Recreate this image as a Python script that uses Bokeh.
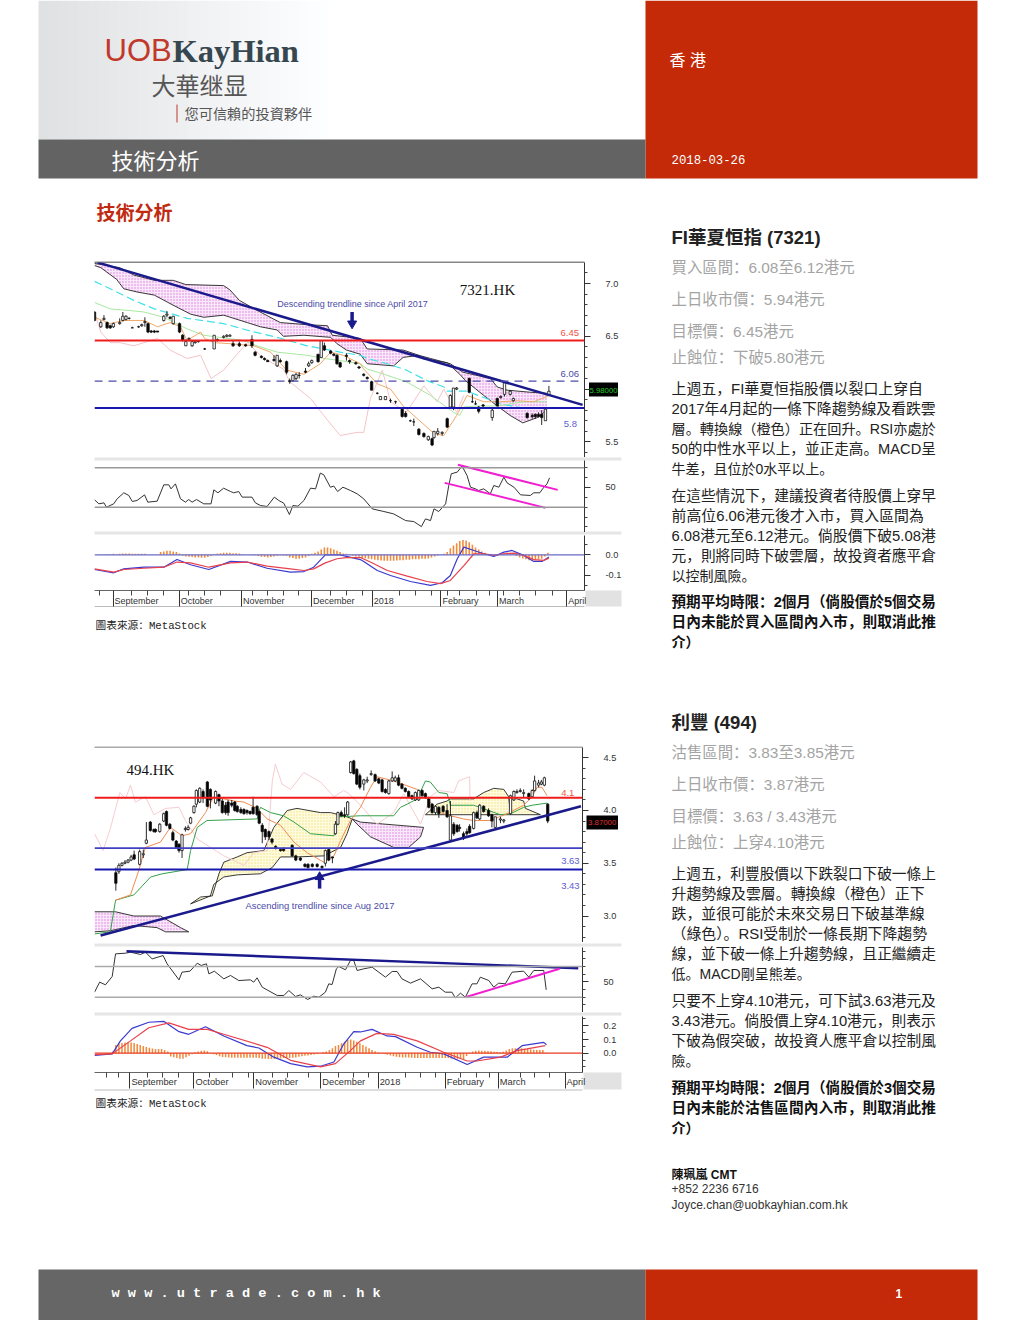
from bokeh.plotting import figure
from bokeh.models import Range1d, FixedTicker, Column, Span, ColumnDataSource
from bokeh.core.properties import value
from bokeh.embed import file_html
from bokeh.resources import INLINE

# ---------------------------------------------------- chart 7321.HK -----
c1_bar = [0,2,3,4,5,6,8,9,10,11,12,14,15,16,17,18,19,20,22,23,24,25,27,28,29,30,31,32,33,35,38,39,41,42,43,44,46,48,50,51,53,54,55,57,58,59,61,62,63,64,65,67,68,69,71,72,73,75,76,77,78,80,81,83,84,85.5,86.6,88,89.8,90.8,92.4,94,95.6,97.7,98.8,100.3,101.4,103,104.6,106,107.2,107.8,109,110.4,112,113,114,115,119,120,121,122,123.4,126.3,127.9,129,130.2,132,133,137.4,139,140,141,142,143.2,144.3]
c1_open = [6.73,6.59,6.66,6.63,6.60,6.59,6.62,6.65,6.66,6.67,6.58,6.59,6.60,6.63,6.62,6.55,6.55,6.55,6.65,6.70,6.68,6.62,6.62,6.51,6.41,6.47,6.41,6.44,6.45,6.38,6.38,6.46,6.49,6.50,6.50,6.43,6.43,6.42,6.47,6.35,6.31,6.29,6.27,6.28,6.22,6.27,6.26,6.08,6.08,6.10,6.13,6.17,6.22,6.25,6.33,6.30,6.41,6.36,6.33,6.32,6.25,6.32,6.27,6.25,6.21,6.14,6.11,6.07,5.96,5.90,5.90,5.89,5.88,5.81,5.77,5.70,5.69,5.62,5.58,5.52,5.53,5.54,5.58,5.58,5.72,5.83,5.83,6.00,6.10,5.88,5.86,5.83,5.85,5.73,5.91,5.92,5.95,5.95,5.89,5.77,5.75,5.76,5.76,5.76,5.70,5.94]
c1_close = [6.65,6.63,6.67,6.58,6.58,6.62,6.63,6.69,6.69,6.67,6.58,6.59,6.61,6.64,6.54,6.54,6.54,6.54,6.69,6.71,6.67,6.69,6.54,6.46,6.45,6.48,6.45,6.45,6.45,6.38,6.51,6.47,6.50,6.51,6.51,6.41,6.41,6.41,6.41,6.32,6.30,6.28,6.26,6.27,6.32,6.26,6.16,6.07,6.13,6.14,6.13,6.16,6.24,6.27,6.26,6.46,6.37,6.34,6.32,6.24,6.21,6.31,6.26,6.24,6.20,6.13,6.10,5.99,5.96,5.93,5.93,5.89,5.88,5.74,5.74,5.70,5.69,5.57,5.55,5.55,5.47,5.60,5.60,5.59,5.64,5.94,6.01,6.01,5.97,5.88,5.86,5.79,5.84,5.80,5.84,5.93,6.06,5.98,5.91,5.73,5.74,5.74,5.74,5.73,5.81,5.98]
c1_high = [6.74,6.65,6.70,6.64,6.61,6.63,6.67,6.73,6.70,6.68,6.59,6.60,6.62,6.68,6.63,6.56,6.56,6.55,6.70,6.74,6.69,6.69,6.63,6.52,6.47,6.49,6.45,6.45,6.46,6.39,6.51,6.48,6.51,6.52,6.52,6.46,6.45,6.43,6.51,6.36,6.32,6.30,6.28,6.32,6.32,6.29,6.27,6.10,6.14,6.15,6.16,6.20,6.26,6.28,6.33,6.46,6.44,6.37,6.34,6.33,6.26,6.34,6.28,6.26,6.22,6.15,6.12,6.08,5.97,5.93,5.93,5.91,5.89,5.83,5.79,5.71,5.72,5.63,5.59,5.56,5.54,5.60,5.63,5.60,5.73,5.95,6.01,6.02,6.11,5.95,5.89,5.84,5.86,5.82,5.92,5.94,6.06,5.99,5.92,5.78,5.77,5.77,5.78,5.80,5.81,6.03]
c1_low = [6.64,6.58,6.65,6.57,6.57,6.58,6.61,6.64,6.65,6.66,6.58,6.58,6.59,6.59,6.53,6.53,6.53,6.54,6.64,6.68,6.66,6.61,6.53,6.45,6.41,6.45,6.40,6.43,6.44,6.37,6.38,6.45,6.48,6.49,6.50,6.40,6.40,6.40,6.39,6.31,6.29,6.27,6.26,6.26,6.21,6.25,6.14,6.05,6.07,6.08,6.10,6.15,6.21,6.24,6.25,6.30,6.36,6.33,6.31,6.23,6.20,6.27,6.24,6.23,6.19,6.12,6.09,5.99,5.95,5.90,5.90,5.87,5.86,5.73,5.73,5.69,5.65,5.56,5.54,5.51,5.46,5.53,5.56,5.56,5.63,5.83,5.80,5.99,5.96,5.87,5.85,5.77,5.83,5.70,5.84,5.91,5.93,5.94,5.88,5.72,5.72,5.72,5.73,5.66,5.70,5.94]
c1_cloud_top_x = [0,8,12.5,19,25,29,41,43,46,52,59,67.5,74,75.5,84.4,86.6,98,103,106.7,113,117,125.7,127.9,131,138.4,143.7]
c1_cloud_top = [7.19,7.15,7.08,7.03,7.03,6.99,6.98,6.94,6.84,6.74,6.63,6.61,6.60,6.51,6.48,6.38,6.37,6.32,6.29,6.24,6.16,6.10,6.02,5.99,5.97,5.96]
c1_cloud_bot_x = [0,2,7,9.3,13.5,19,24,30.5,34.7,41,48.5,52.7,58,60,66.5,75,77,80,84.4,86.6,95,98,103,104,112,116,117.8,123.6,127.9,132,136,140.6,143.7]
c1_cloud_bot = [7.17,7.15,7.04,6.95,6.92,6.89,6.81,6.71,6.68,6.70,6.63,6.59,6.56,6.50,6.51,6.49,6.43,6.37,6.33,6.24,6.22,6.30,6.32,6.29,6.25,6.14,6.08,5.94,5.84,5.75,5.68,5.73,5.80]
c1_cyan_x = [0,5,12.5,19,29.4,41,49.5,58,67.5,78,84.4,86.6,93,99,105.6,111,112,118.3,123.6,129,136]
c1_cyan = [7.02,6.95,6.84,6.76,6.67,6.62,6.55,6.49,6.41,6.35,6.32,6.29,6.24,6.18,6.08,6.02,5.98,5.98,5.92,5.86,5.82]
c1_green_x = [0,5,12.5,15.7,22,29.4,34.7,47.4,51.6,58,67.5,72.8,78,84.4,86.6,92,99,106.7,114,116,117.3,121.5,127.9,136.3,143.7]
c1_green = [6.82,6.76,6.74,6.73,6.68,6.57,6.51,6.46,6.41,6.35,6.32,6.29,6.27,6.24,6.19,6.14,6.07,5.94,5.78,5.75,5.83,5.84,5.84,5.88,5.88]
c1_orange_x = [0,5,9.3,15.7,20,24,27.3,29.4,33.7,35,38,43,50.6,55.9,61,66.5,71.7,75,79,84.4,85.5,89.8,94,98,102.5,107.8,110.9,115,118.3,123.6,129,134,139.5,144.5]
c1_orange = [6.68,6.62,6.65,6.65,6.59,6.63,6.59,6.46,6.54,6.48,6.44,6.43,6.41,6.35,6.18,6.14,6.24,6.35,6.32,6.24,6.19,6.05,6.00,5.84,5.72,5.58,5.56,5.75,5.94,5.88,5.88,5.89,5.88,5.94]
c1_lag_x = [0,2,5,8,12.5,20,24,29.4,33.7,37,41,45,48.5,53.8,60,62,68.6,72.8,78,83.4,85.5,87.6,91.4,94,99,104.6,108.8,110.9,115,117.3]
c1_lag = [6.73,6.54,6.44,6.44,6.41,6.48,6.37,6.29,6.32,6.10,6.18,6.32,6.44,6.29,6.19,6.07,5.91,5.75,5.56,5.59,5.59,5.91,6.18,5.88,5.78,6.03,5.88,6.00,5.78,5.94]
c1_rsi_x = [0,1.4,3,3.8,6.1,7.2,9.3,10.9,12,13.5,15.9,16.9,19.9,22,23.6,24.3,25.7,27.3,28.9,29.9,31,32.4,34.7,37,37.9,39.2,41,43.2,44.2,45.8,46.9,50,51.1,52.7,54.8,57.1,58.5,60.1,61.9,63,64.6,66.5,68.6,70.2,71.7,72.8,74.9,76,77.2,78.9,81.3,83.4,85.5,88.2,91.9,95,98.8,101.4,103.8,105.1,106.7,107.8,109.3,111.5,112.5,113.3,115.2,116.7,118.3,119.4,121,122,123.6,125.7,126.8,128.4,130,131,133.2,135.3,138.4,139.5,141.4,142.7,143.7,144.5]
c1_rsi = [37.5,33.4,34.4,30,33.4,38.5,44.6,41.9,35.8,36.8,42.5,35.1,36.1,52.7,52.7,48.6,53.7,38.5,35.1,37.8,35.1,37.8,33.4,33.4,47.6,44.6,49.3,45.9,44.6,45.9,40.2,40.2,34.4,31.7,30.7,40.2,36.8,34.1,22.5,31.7,31,36.8,49.3,48.6,64.6,62.9,50.3,51.4,45.9,50.3,46.9,43.6,38.5,28.3,25.6,23.2,16.4,15.4,10.3,18.1,16.4,28.3,25.6,33.4,52,63.9,65.6,71.7,62.2,50.3,48.6,46.9,48.6,43.6,52,50.3,60.5,54.7,50.3,42.5,41.9,44.6,44.6,50.3,53.7,59.8]
c1_macd_x = [0,6.1,9.3,15.7,22,26.2,30.5,36.3,43.2,48.5,54.8,62.2,66.5,69.6,73.3,78,84.4,85.5,89.8,94,100.3,106.7,110.4,113,115.2,117.3,120.5,123.6,126.8,130,132.6,136.3,139.5,142.1,144.3]
c1_macd = [-.071,-.087,-.068,-.060,-.060,-.023,-.048,-.071,-.032,-.035,-.065,-.084,-.081,-.060,0,0,-.023,-.032,-.076,-.100,-.129,-.148,-.135,-.100,-.019,.037,.021,.005,-.008,.013,.021,-.003,-.032,-.032,-.011]
c1_sig_x = [0,6.1,9.3,15.7,22,26.2,30.5,36.3,43.2,48.5,54.8,62.2,66.5,69.6,73.3,77,80,84.4,87.6,93,99.3,105.6,109.9,113,117.3,120.5,123.6,126.8,130,133.2,136.3,139.5,142.7,144.3]
c1_sig = [-.068,-.084,-.071,-.065,-.060,-.035,-.039,-.060,-.039,-.035,-.055,-.068,-.076,-.068,-.039,-.019,-.014,-.013,-.035,-.076,-.103,-.129,-.139,-.124,-.052,.005,.005,-.003,.005,.008,-.003,-.023,-.027,-.016]
c1_hist_milli = [0,0,0,0,3,3,5,3,5,6,6,6,5,5,5,5,5,0,0,0,0,13,16,19,19,16,13,6,-5,-8,-10,-11,-13,-13,-14,-14,-11,-5,3,6,8,10,10,10,8,8,6,3,0,0,-2,-2,-6,-10,-11,-13,-11,-8,-5,-2,-3,-5,-13,-16,-19,-19,-16,-13,-6,5,10,16,26,35,35,32,26,19,13,6,5,2,-5,-8,-10,-16,-17,-19,-21,-24,-26,-27,-29,-29,-29,-29,-27,-26,-26,-24,-24,-22,-21,-21,-19,-19,-18,-13,-8,-3,2,5,13,32,45,56,67,72,69,61,48,35,26,16,10,5,-3,-6,-5,0,6,11,10,3,-6,-13,-18,-22,-26,-29,-26,-22,-19,-8,10]
c1_month_bar = [5.9,26.9,46.7,68.9,88.2,110,128,150]
c1_week_bar = [1.7,11.6,16.9,22,29.8,34.9,40,50.2,55,59.9,64.9,75.1,80,85,97,102,107,112,116,121.3,125.3,130,135,140,145.3]
month_names = ["September","October","November","December","2018","February","March","April"]
c1_levels = dict(red=6.46, dash=6.075, blue=5.82)
c1_trend_x, c1_trend = [0.9,155], [7.20,5.85]
c1_ch_up_x, c1_ch_up = [115.4,147.1], [73,47.6]
c1_ch_lo_x, c1_ch_lo = [111.2,143.2], [54.7,29.3]

# ---------------------------------------------------- chart 494.HK ------
c2_bar = [7,8,9,10,11,12,13,14.8,16,17,18.3,19.5,20,21.4,22.7,23.6,24.7,25.7,26.8,27.7,28.7,29.8,30.7,31.5,32.6,33.4,34.5,35.6,37,38,39.7,40.8,41.9,43,43.8,45,46,46.8,48,49,50,51,52,53.3,54,55,56,57.2,58.2,59.4,61,62,64.8,66,67.5,69,70,71.4,73,74.6,75.7,76.8,78,79,79.8,80.9,82,83,84,85,86,87,88.3,89.4,90.7,92,93.2,94.3,95.4,96.5,97.6,98.6,99.7,100.8,101.9,103,104.1,105.2,106.3,107.4,108.5,109.6,110.7,111.8,112.9,114.3,115.6,116.7,117.8,118.9,119.7,121,122.1,123,124.3,125.4,126.3,127.6,129.2,130.3,131.4,133.1,134.2,136.4,137.5,138.5,139.6,140.7,142.4,143.5,144.3,145.6,146.5,147.5,148.6]
c2_open = [3.41,3.42,3.48,3.50,3.51,3.53,3.58,3.49,3.58,3.69,3.89,3.82,3.82,3.80,3.90,3.99,3.87,3.79,3.71,3.68,3.62,3.82,3.82,3.88,3.98,4.06,4.08,4.18,4.27,4.20,4.07,4.15,4.09,4.05,4.08,4.07,4.08,4.04,4.01,4.01,4.00,3.99,4.03,4.04,3.99,3.86,3.82,3.80,3.73,3.66,3.63,3.64,3.67,3.57,3.55,3.49,3.49,3.49,3.49,3.47,3.50,3.63,3.56,3.78,3.87,3.98,3.96,3.96,4.36,4.47,4.39,4.33,4.25,4.28,4.34,4.34,4.30,4.29,4.20,4.16,4.28,4.28,4.31,4.25,4.21,4.18,4.14,4.10,4.10,4.19,4.16,4.11,4.06,3.98,4.03,4.04,4.00,3.72,3.87,3.86,3.84,3.78,3.80,3.85,3.83,3.98,3.92,4.04,4.00,3.96,3.84,3.91,3.90,3.97,4.10,4.17,4.18,4.16,4.16,4.13,4.19,4.24,4.25,4.24,4.06]
c2_close = [3.31,3.48,3.50,3.51,3.53,3.56,3.54,3.61,3.59,3.72,3.81,3.80,3.80,3.87,3.97,3.86,3.83,3.72,3.65,3.62,3.77,3.83,3.84,3.93,4.04,4.19,4.21,4.12,4.04,4.10,4.18,4.09,3.98,3.98,3.98,4.05,4.00,3.99,3.98,3.97,3.98,3.97,3.97,3.96,3.88,3.80,3.75,3.75,3.70,3.64,3.62,3.62,3.57,3.53,3.53,3.47,3.46,3.47,3.47,3.46,3.62,3.53,3.55,3.87,3.98,3.95,3.95,4.08,4.46,4.35,4.25,4.22,4.29,4.29,4.35,4.28,4.26,4.18,4.17,4.28,4.31,4.31,4.24,4.21,4.18,4.13,4.11,4.17,4.19,4.14,4.12,4.03,3.98,4.04,3.97,3.99,3.94,3.95,3.78,3.80,3.83,3.74,3.78,3.79,3.98,3.93,4.05,3.99,3.95,3.90,3.94,3.92,3.91,4.14,4.18,4.18,4.19,4.17,4.11,4.19,4.28,4.26,4.27,4.31,3.90]
c2_high = [3.46,3.50,3.51,3.53,3.54,3.58,3.62,3.63,3.63,3.89,3.90,3.83,3.83,3.88,3.98,4.00,3.88,3.81,3.72,3.69,3.78,3.85,3.86,3.94,4.05,4.20,4.22,4.20,4.28,4.21,4.19,4.16,4.11,4.08,4.10,4.10,4.09,4.05,4.03,4.02,4.01,4.00,4.13,4.05,4.00,3.88,3.83,3.81,3.74,3.67,3.64,3.65,3.68,3.58,3.56,3.50,3.50,3.50,3.50,3.48,3.63,3.64,3.56,3.90,3.99,4.00,4.03,4.09,4.47,4.48,4.40,4.35,4.30,4.32,4.38,4.35,4.31,4.30,4.21,4.29,4.37,4.33,4.34,4.26,4.22,4.19,4.15,4.18,4.20,4.20,4.17,4.13,4.07,4.05,4.04,4.05,4.06,4.09,3.89,3.87,3.87,3.80,3.83,3.87,3.99,4.00,4.06,4.05,4.02,3.97,3.94,3.94,3.92,4.15,4.19,4.20,4.21,4.20,4.17,4.20,4.33,4.29,4.29,4.32,4.07]
c2_low = [3.24,3.40,3.47,3.49,3.50,3.52,3.53,3.48,3.55,3.68,3.80,3.79,3.79,3.79,3.89,3.85,3.82,3.71,3.64,3.60,3.55,3.80,3.81,3.87,3.97,4.03,4.07,4.07,4.03,4.02,4.06,4.04,3.97,3.96,3.95,4.03,3.99,3.98,3.97,3.96,3.96,3.96,3.96,3.95,3.87,3.69,3.72,3.72,3.68,3.63,3.61,3.61,3.56,3.52,3.52,3.46,3.45,3.46,3.46,3.44,3.47,3.52,3.50,3.77,3.86,3.94,3.93,3.95,4.35,4.34,4.24,4.20,4.19,4.26,4.33,4.27,4.25,4.17,4.16,4.15,4.27,4.27,4.23,4.20,4.17,4.12,4.10,4.09,4.09,4.13,4.11,4.02,3.97,3.96,3.93,3.98,3.93,3.70,3.76,3.79,3.80,3.72,3.75,3.78,3.82,3.92,3.91,3.98,3.94,3.84,3.83,3.88,3.88,3.96,4.09,4.16,4.17,4.12,4.10,4.12,4.18,4.22,4.24,4.23,3.88]
c2_pink_a_top_x, c2_pink_a_top = [0,6.9,12.9,21.6,28.2,30.9], [3.04,3.04,3.00,3.00,2.89,2.85]
c2_pink_a_bot_x, c2_pink_a_bot = [0,5.2,12.9,20.5,23.3,30.9], [2.85,2.86,2.91,2.89,2.85,2.85]
c2_yel_a_top_x = [31.5,34.8,38.6,40.8,42.4,46.8,50,55.5,58.8,63.2,66.4,74.1,77.4,82.8,84.5]
c2_yel_a_top = [3.115,3.18,3.19,3.40,3.51,3.56,3.60,3.62,3.84,4.00,4.02,3.98,3.98,3.94,3.92]
c2_yel_a_bot_x = [31.5,38,39.1,42.4,46.8,54.4,58.3,61,66.4,75.2,80.7,82.8,84.5]
c2_yel_a_bot = [3.115,3.19,3.30,3.37,3.39,3.40,3.46,3.56,3.56,3.57,3.65,3.78,3.92]
c2_pink_b_top_x, c2_pink_b_top = [84.5,87.2,107.9], [3.92,3.89,3.84]
c2_pink_b_bot_x, c2_pink_b_bot = [84.5,86.1,90.5,98.1,103,106.9,107.9], [3.92,3.87,3.75,3.65,3.65,3.75,3.84]
c2_yel_b_top_x = [108.5,112.3,115.6,116.7,124.3,127.6,130.9,134.2,135.8,136.4]
c2_yel_b_top = [3.96,4.06,4.09,4.11,4.11,4.17,4.21,4.20,4.13,3.96]
c2_yel_b_bot_x, c2_yel_b_bot = [108.5,136.4], [3.96,3.96]
c2_yel_c_top_x, c2_yel_c_top = [136.4,140.7,141.3,146.2], [4.13,4.09,4.02,3.96]
c2_yel_c_bot_x, c2_yel_c_bot = [136.4,146.2], [3.96,3.96]
c2_lag_x = [0,2.8,5.2,8.3,10.2,11.8,13.4,16.7,19.5,23.3,27.7,29.8,33.7,42.4,49,52.2,56.6,58.3,59.3,61.5,64.3,68.6,74.1,78.5,81.7,83.4,87.2,92.6,98.1,101.4,106.9,110.1,112.9,117.8,119.4,123,123.1]
c2_lag = [3.78,3.62,3.83,4.17,4.11,4.24,4.08,4.13,3.96,4.02,4.03,3.905,3.73,3.57,3.48,3.60,3.62,4.28,4.44,4.25,4.20,4.36,4.27,4.13,4.19,4.16,4.05,3.87,3.98,4.16,3.87,4.13,4.19,4.17,4.28,4.32,4.09]
c2_orange_x = [6.9,11.8,14.5,16.7,21.6,24.9,28.7,31.5,33.7,36.4,39.1,45.7,49,53.3,56.6,61,65.4,69.7,75.2,78.5,80.7,83.9,87.2,90.5,92.6,98.1,105.8,110.1,113.4,116.7,121,124.3,129.8,135.3,140.7,143.5,145.1,146.7,148.4]
c2_orange = [3.15,3.20,3.43,3.65,3.70,3.84,3.76,3.78,3.87,3.98,4.13,4.09,4.08,4.02,3.92,3.86,3.70,3.60,3.51,3.57,3.715,3.905,4.03,4.22,4.32,4.28,4.20,4.08,3.98,3.95,3.92,3.905,3.905,3.97,4.05,4.13,4.22,4.22,4.14]
c2_green_x = [0,5.2,6.9,12.9,18.4,22.2,30.4,31.5,33.7,36.9,53.3,54.4,57.7,62,65.4,70.8,78.5,80.1,87.2,98.1,100.3,102.5,105.8,108.5,110.1,112.9,115.6,116.7,124.3,133.1,136.4,140.7,143.5,148.4]
c2_green = [2.83,2.85,3.15,3.20,3.37,3.40,3.44,3.62,3.84,3.905,3.92,4.03,3.98,3.95,3.89,3.78,3.76,3.94,3.95,3.95,4.03,4.06,4.11,4.28,4.27,4.17,4.16,4.05,4.05,3.96,3.97,4.03,4.05,4.07]
c2_rsi_x = [0,1.7,3.6,5.8,6.9,10.2,11.8,15.1,16.7,18.9,22.5,23.8,27.7,28.7,31.3,33.7,35,36.7,37.5,39.3,42.4,44.6,47.3,51.1,52.2,53.3,55,59.9,62.1,63.7,65.9,67.5,69.9,71.9,73.6,75.7,76.8,77.9,79.3,80.1,82.3,83.9,85,86.1,88.3,91,93.2,95.4,97.6,99.2,100.8,103.6,106.9,110.7,112.9,115,117.2,118.3,120,121.6,123.8,125.4,126.5,129.3,130.9,132.5,134.7,136.9,140.7,142.4,144,147.3,148.1]
c2_rsi = [36.5,49.6,46.1,57,86.5,87.4,88.7,85.7,88.7,80,84.3,73.5,52.6,62.6,63.9,74.3,71.3,73.5,60.4,63.9,53.9,58.3,51.7,52.6,49.6,55.2,43,32.2,32.2,38.7,30.9,33,27,31.3,30,36.5,47.4,46.5,67,70,65.7,77.8,77.8,64.8,67,69.1,62.6,56.1,63.5,63.5,53.9,48.3,53.9,40.9,43,36.5,36.5,29.1,35.2,30,47.4,47.4,56.1,51.7,43,48.3,47.4,62.6,63.9,56.1,64.8,64.8,39.6]
c2_macd_x = [0,5.8,8.5,12.3,17.8,22.7,27.7,30.9,36.4,42.4,50,53.9,58.8,64.3,69.7,74.1,78.5,81.7,85,87.2,91,95.9,98.7,105.8,110.1,114.5,122.2,127.6,135.3,140.2,147.3,148.2]
c2_macd = [-.017,-.005,.090,.181,.226,.233,.157,.138,.193,.126,.055,.038,-.029,-.076,-.100,-.095,-.064,.067,.157,.155,.174,.126,.121,.043,.007,-.005,-.083,-.029,-.029,.055,.079,.062]
c2_sig_x = [0,5.8,11.8,17.8,24.4,30.9,37,42.4,56.6,64.3,74.1,79,83.9,87.2,92.6,98.1,105.8,114.5,122.2,125.4,133.1,138.5,141.8,147.8]
c2_sig = [-.010,-.005,.090,.186,.221,.174,.174,.138,.043,-.052,-.100,-.076,.019,.090,.145,.138,.090,.007,-.057,-.057,-.029,.019,.031,.055]
c2_hist_milli = [0,0,0,0,0,0,12,60,70,75,78,80,78,74,68,60,52,46,40,34,31,30,30,24,12,-24,-30,-36,-41,-40,-30,-19,-8,7,12,17,19,14,2,-7,-14,-22,-28,-29,-31,-33,-34,-34,-33,-34,-34,-34,-34,-34,-36,-41,-41,-43,-43,-43,-41,-38,-36,-36,-36,-33,-31,-26,-22,-19,-17,-14,-10,-5,0,7,12,24,36,52,60,72,84,96,100,92,84,72,60,48,36,24,14,5,2,-5,-12,-17,-22,-26,-29,-31,-31,-31,-34,-36,-36,-36,-36,-36,-36,-36,-36,-36,-36,-36,-36,-38,-40,-41,-43,-43,-20,-5,12,18,19,18,17,16,14,10,8,7,10,20,30,36,36,36,36,33,30,28,26,24,24,24,-5]
c2_month_bar = [11.6,32.6,52.2,74.2,93,115,132.4,154.3]
c2_week_bar = [3.8,7.8,17.3,22.4,27.7,37.8,45.4,50.6,58.3,63.2,70.3,80.1,85,89.9,101.9,107,111.8,120,125.4,129.6,139.6,144.3,149.3]
c2_levels = dict(red=4.12, blue1=3.643, blue2=3.44)
c2_trend_x, c2_trend = [2,159.5], [2.815,4.04]
c2_rsi_trend_x, c2_rsi_trend = [10.5,158.6], [90,67.8]
c2_rsi_up_x, c2_rsi_up = [121.6,152.5], [30,67]
box1_text, box2_text = "5.98000", "3.87000"

SANS = "Liberation Sans, Noto Sans CJK SC"
CJK = SANS
SERIF = "Liberation Serif"
BLUE_TXT = "#4a4aa8"

def panel(left, top, fw, fh, xr, yr, major, minor, labels, xaxis=False):
    p = figure(width=fw+39, height=fh+(17 if xaxis else 0), x_range=Range1d(*xr), y_range=Range1d(*yr),
               output_backend="svg", toolbar_location=None,
               x_axis_location="below" if xaxis else None, y_axis_location="right",
               min_border_left=0, min_border_top=0, min_border_bottom=17 if xaxis else 0, min_border_right=39,
               background_fill_color=None, border_fill_color=None, outline_line_color=None)
    p.frame_width = fw
    p.frame_height = fh
    p.grid.visible = False
    ax = p.yaxis[0]
    ax.ticker = FixedTicker(ticks=major, minor_ticks=minor)
    ax.major_label_overrides = labels
    ax.major_tick_in = 0; ax.major_tick_out = 6
    ax.minor_tick_in = 0; ax.minor_tick_out = 3
    ax.major_label_standoff = 15
    ax.major_label_text_font = "Liberation Sans"
    ax.major_label_text_font_size = "9.2px"
    ax.major_label_text_color = "#333333"
    ax.axis_line_color = "#333333"
    ax.major_tick_line_color = "#333333"
    ax.minor_tick_line_color = "#444444"
    p.styles = {"position": "absolute", "left": f"{left}px", "top": f"{top}px"}
    return p

def month_axis(p, months, weeks):
    ax = p.xaxis[0]
    ax.ticker = FixedTicker(ticks=months, minor_ticks=weeks)
    ax.major_tick_in = 0; ax.major_tick_out = 16
    ax.minor_tick_in = 0; ax.minor_tick_out = 5
    ax.major_label_text_color = None
    ax.major_label_text_font_size = "1px"
    ax.major_label_standoff = 0
    ax.axis_line_color = "#666666"
    ax.major_tick_line_color = "#333333"
    ax.minor_tick_line_color = "#444444"

def cloud(p, tx, ty, bx, by, kind):
    fill, hatch = ("#f9e8f9", "#d860d8") if kind == "pink" else ("#fffbe0", "#f0dc60")
    p.patch(list(tx)+list(bx)[::-1], list(ty)+list(by)[::-1], fill_color=fill, line_color=None,
            hatch_pattern="dot", hatch_color=hatch, hatch_scale=3, hatch_alpha=0.8)
    p.line(tx, ty, line_color="#222222", line_width=0.9)
    p.line(bx, by, line_color="#222222", line_width=0.9)

def candles(p, bar, o, c, h, l):
    src = ColumnDataSource(dict(x=bar, top=[max(a, b) for a, b in zip(o, c)], bottom=[min(a, b) for a, b in zip(o, c)],
                                h=h, l=l, col=["black" if a > b else "white" for a, b in zip(o, c)]))
    p.segment("x", "h", "x", "l", source=src, line_color="#111111", line_width=0.9)
    p.vbar("x", 0.75, "top", "bottom", source=src, fill_color="col", line_color="#111111", line_width=0.8)

def txt(p, x, y, s, size, color, font=SANS, style="normal", align="left"):
    p.text([x], [y], text=[s], text_font=value(font), text_font_size=f"{size}px", text_color=color,
           text_font_style=style, text_baseline="middle", text_align=align)

def hist(p, vals, col):
    xs = list(range(len(vals)))
    p.vbar(xs, 0.5, [v/1000 for v in vals], [0]*len(vals), fill_color=col, line_color=None)

def arrow(p, x, y0, y1, dy):
    p.segment([x], [y0], [x], [y1], line_color="#1a1a8c", line_width=3.5)
    p.scatter([x], [y1], marker="triangle" if dy > 0 else "inverted_triangle", size=9, fill_color="#1a1a8c", line_color="#1a1a8c")

# ----- 7321.HK panels
xr1 = (0, 155.6)
a1 = panel(94, 262, 490, 195, xr1, (5.352, 7.199), [5.5, 6.0, 6.5, 7.0],
           [5.4,5.6,5.7,5.8,5.9,6.1,6.2,6.3,6.4,6.6,6.7,6.8,6.9,7.1], {5.5:"5.5",6.0:"",6.5:"6.5",7.0:"7.0"})
cloud(a1, c1_cloud_top_x, c1_cloud_top, c1_cloud_bot_x, c1_cloud_bot, "pink")
a1.line(c1_lag_x, c1_lag, line_color="#f4c4c8", line_width=1)
a1.line(c1_cyan_x, c1_cyan, line_color="#40e0e8", line_width=1.2, line_dash="8 4")
a1.line(c1_green_x, c1_green, line_color="#a8e8a0", line_width=1)
a1.line(c1_orange_x, c1_orange, line_color="#f0a868", line_width=1)
candles(a1, c1_bar, c1_open, c1_close, c1_high, c1_low)
a1.add_layout(Span(location=c1_levels["red"], dimension="width", line_color="#f01c1c", line_width=2))
a1.add_layout(Span(location=c1_levels["dash"], dimension="width", line_color="#4c4ca8", line_width=1.2, line_dash="8 6"))
a1.add_layout(Span(location=c1_levels["blue"], dimension="width", line_color="#1818b0", line_width=2))
a1.line(c1_trend_x, c1_trend, line_color="#1a1a8c", line_width=2.5)
txt(a1, 58, 6.81, "Descending trendline since April 2017", 9, BLUE_TXT)
txt(a1, 116, 6.94, "7321.HK", 15, "#111111", SERIF)
txt(a1, 148, 6.53, "6.45", 9.5, "#ee5544")
txt(a1, 148, 6.14, "6.06", 9.5, BLUE_TXT)
txt(a1, 149, 5.67, "5.8", 9.5, "#6060d0")
arrow(a1, 81.8, 6.73, 6.62, -1)

b1 = panel(94, 460, 490, 72, xr1, (4.3, 77.4), [50], [10,20,30,40,60,70], {50:"50"})
b1.add_layout(Span(location=70, dimension="width", line_color="#999999", line_width=1.5))
b1.add_layout(Span(location=30, dimension="width", line_color="#999999", line_width=1.5))
b1.line(c1_rsi_x, c1_rsi, line_color="#333333", line_width=1)
b1.line(c1_ch_up_x, c1_ch_up, line_color="#f020d0", line_width=2)
b1.line(c1_ch_lo_x, c1_ch_lo, line_color="#f020d0", line_width=2)

m1 = panel(94, 535, 490, 55, xr1, (-.1725, .0932), [-0.1, 0.0], [-0.15,-0.05,0.05], {-0.1:"-0.1",0.0:"0.0"}, True)
hist(m1, c1_hist_milli, "#f08a3c")
m1.add_layout(Span(location=0, dimension="width", line_color="#6a6ac8", line_width=1.2))
m1.line(c1_macd_x, c1_macd, line_color="#3a3ad0", line_width=1.2)
m1.line(c1_sig_x, c1_sig, line_color="#e8404c", line_width=1.2)
month_axis(m1, c1_month_bar, c1_week_bar)

# ----- 494.HK panels
xr2 = (0, 160)
a2 = panel(94, 747, 488, 195, xr2, (2.749, 4.597), [3.0, 3.5, 4.0, 4.5],
           [2.8,2.9,3.1,3.2,3.3,3.4,3.6,3.7,3.8,3.9,4.1,4.2,4.3,4.4], {3.0:"3.0",3.5:"3.5",4.0:"4.0",4.5:"4.5"})
cloud(a2, c2_pink_a_top_x, c2_pink_a_top, c2_pink_a_bot_x, c2_pink_a_bot, "pink")
cloud(a2, c2_yel_a_top_x, c2_yel_a_top, c2_yel_a_bot_x, c2_yel_a_bot, "yellow")
cloud(a2, c2_pink_b_top_x, c2_pink_b_top, c2_pink_b_bot_x, c2_pink_b_bot, "pink")
cloud(a2, c2_yel_b_top_x, c2_yel_b_top, c2_yel_b_bot_x, c2_yel_b_bot, "yellow")
cloud(a2, c2_yel_c_top_x, c2_yel_c_top, c2_yel_c_bot_x, c2_yel_c_bot, "yellow")
a2.line(c2_lag_x, c2_lag, line_color="#f6ccd0", line_width=1)
a2.line(c2_green_x, c2_green, line_color="#34a048", line_width=1)
a2.line(c2_orange_x, c2_orange, line_color="#f08c50", line_width=1)
candles(a2, c2_bar, c2_open, c2_close, c2_high, c2_low)
a2.add_layout(Span(location=c2_levels["red"], dimension="width", line_color="#f01c1c", line_width=2))
a2.add_layout(Span(location=c2_levels["blue1"], dimension="width", line_color="#4040c0", line_width=1.6))
a2.add_layout(Span(location=c2_levels["blue2"], dimension="width", line_color="#1818b0", line_width=2))
a2.line(c2_trend_x, c2_trend, line_color="#1a1a8c", line_width=2.5)
txt(a2, 49.5, 3.10, "Ascending trendline since Aug 2017", 9.4, BLUE_TXT)
txt(a2, 10.5, 4.38, "494.HK", 15, "#111111", SERIF)
txt(a2, 153, 4.17, "4.1", 9.5, "#ee5544")
txt(a2, 153, 3.52, "3.63", 9.5, "#6060d0")
txt(a2, 153, 3.28, "3.43", 9.5, "#6060d0")
arrow(a2, 73.8, 3.26, 3.37, 1)

b2 = panel(94, 947, 488, 65, xr2, (10, 94.8), [50], [20,30,40,60,70,80,90], {50:"50"})
b2.add_layout(Span(location=70, dimension="width", line_color="#aaaaaa", line_width=1.5))
b2.add_layout(Span(location=30, dimension="width", line_color="#aaaaaa", line_width=1.5))
b2.line(c2_rsi_x, c2_rsi, line_color="#333333", line_width=1)
b2.line(c2_rsi_trend_x, c2_rsi_trend, line_color="#1a1a8c", line_width=2.4)
b2.line(c2_rsi_up_x, c2_rsi_up, line_color="#f020d0", line_width=2)

m2 = panel(94, 1016, 488, 56, xr2, (-.141, .268), [0.0, 0.1, 0.2], [-0.1,-0.05,0.05,0.15,0.25], {0.0:"0.0",0.1:"0.1",0.2:"0.2"}, True)
hist(m2, c2_hist_milli, "#f08a3c")
m2.add_layout(Span(location=0, dimension="width", line_color="#e83c20", line_width=1.2))
m2.line(c2_macd_x, c2_macd, line_color="#3a3ad0", line_width=1.2)
m2.line(c2_sig_x, c2_sig, line_color="#e8404c", line_width=1.2)
month_axis(m2, c2_month_bar, c2_week_bar)

# ----- the page itself
page = figure(width=1020, height=1320, x_range=Range1d(0, 1020), y_range=Range1d(1320, 0),
              output_backend="svg", toolbar_location=None, x_axis_location=None, y_axis_location=None,
              min_border=0, min_border_left=0, min_border_right=0, min_border_top=0, min_border_bottom=0,
              outline_line_color=None, background_fill_color="white", border_fill_color="white")
page.frame_width = 1020
page.frame_height = 1320
page.grid.visible = False
page.styles = {"position": "absolute", "left": "0px", "top": "0px"}

def rect(x0, y0, x1, y1, col):
    page.quad(left=[x0], right=[x1], top=[y0], bottom=[y1], fill_color=col, line_color=None)

steps = 30
for i in range(steps):
    t = i/(steps-1)
    v = int(224 + (255-224)*min(1, t))
    rect(38+i*10, 0, 38+(i+1)*10+0.5, 139, f"#{v:02x}{v+1:02x}{min(v+3,255):02x}")
rect(645, 0, 977, 178, "#c42a08")
rect(38, 139, 645, 178, "#636363")
rect(38, 1269, 645, 1320, "#666666")
rect(645, 1269, 977, 1320, "#c42a08")
for y0, y1 in [(457, 460), (531, 534), (943, 946), (1012, 1015)]:
    rect(94, y0, 621, y1, "#e6e6e6")
rect(94, 261, 584, 262.5, "#888888")
rect(94, 746, 582, 747.5, "#aaaaaa")
rect(585, 590, 621, 606, "#e2e2e2")
rect(583, 1072, 621, 1089, "#e2e2e2")
rect(94, 605.5, 584, 606.5, "#bbbbbb")
rect(94, 1089, 582, 1090, "#bbbbbb")
rect(176, 104, 177, 122, "#c0392b")
rect(588.5, 382, 617.5, 396, "#000000")
txt(page, 603, 389.5, box1_text, 7.8, "#22cc22", "Liberation Sans", align="center")
rect(586, 815, 617.5, 829, "#000000")
txt(page, 601.7, 822, box2_text, 7.8, "#e03030", "Liberation Sans", align="center")

# month names sit just right of their ticks, in the strip under each MACD panel
for b, name in zip(c1_month_bar, month_names):
    txt(page, 94 + b*490/xr1[1] + 1.5, 600.5, name, 9, "#333333", "Liberation Sans")
for b, name in zip(c2_month_bar, month_names):
    txt(page, 94 + b*488/xr2[1] + 1.5, 1081, name, 9.3, "#333333", "Liberation Sans")

txt(page, 104, 50, "UOB", 31, "#c0392b", "Liberation Sans")
txt(page, 172, 50, "KayHian", 32.5, "#37474f", "Liberation Serif", "bold")
txt(page, 151, 86, "大華继显", 24, "#555555", CJK)
txt(page, 184, 113, "您可信賴的投資夥伴", 14.2, "#555555", CJK)
txt(page, 111, 161, "技術分析", 22, "white", CJK)
txt(page, 669, 60, "香 港", 16, "white", CJK)
txt(page, 671, 159, "2018-03-26", 12.3, "white", "Liberation Mono")
txt(page, 96, 213, "技術分析", 19, "#c02a10", CJK, "bold")
txt(page, 95, 625, "圖表來源：MetaStock", 10.7, "#222222", "Liberation Mono, Noto Sans CJK SC")
txt(page, 95, 1103, "圖表來源：MetaStock", 10.7, "#222222", "Liberation Mono, Noto Sans CJK SC")
txt(page, 111, 1293, "w w w . u t r a d e . c o m . h k", 13.6, "white", "Liberation Mono", "bold")
txt(page, 895, 1293, "1", 12, "white", SANS, "bold")

COL = 671
GREY = "#a4a4a4"
DARK = "#222222"
LATIN_EM = {"F":.61,"I":.28,"R":.72,"S":.67,"M":.83,"A":.67,"C":.72,"D":.72,".":.28}

def fit(s):
    """Column text is justified in the reference: grow a full line a little towards the column width."""
    em = sum(LATIN_EM.get(ch, .556) if ord(ch) < 128 else 1.0 for ch in s)
    return min(14.9, 264.5/em)

txt(page, COL, 237, "FI華夏恒指 (7321)", 18.5, DARK, CJK, "bold")
for y, s in [(267, "買入區間：6.08至6.12港元"), (299, "上日收市價：5.94港元"), (331, "目標價：6.45港元"), (357, "止蝕位：下破5.80港元"),
             (752, "沽售區間：3.83至3.85港元"), (784, "上日收市價：3.87港元"), (816, "目標價：3.63 / 3.43港元"), (842, "止蝕位：上穿4.10港元")]:
    txt(page, COL, y, s, 15.4, GREY, CJK)
txt(page, COL, 722, "利豐 (494)", 18.5, DARK, CJK, "bold")
body_full = [(388, "上週五，FI華夏恒指股價以裂口上穿自"), (408, "2017年4月起的一條下降趨勢線及看跌雲"), (428, "層。轉換線（橙色）正在回升。RSI亦處於"),
        (448, "50的中性水平以上，並正走高。MACD呈"),
        (495, "在這些情況下，建議投資者待股價上穿早"), (515, "前高位6.06港元後才入市，買入區間為"), (535, "6.08港元至6.12港元。倘股價下破5.08港"),
        (555, "元，則將同時下破雲層，故投資者應平倉"),
        (873, "上週五，利豐股價以下跌裂口下破一條上"), (893, "升趨勢線及雲層。轉換線（橙色）正下"), (913, "跌，並很可能於未來交易日下破基準線"),
        (933, "（綠色）。RSI受制於一條長期下降趨勢"), (953, "線，並下破一條上升趨勢線，且正繼續走"),
        (1000, "只要不上穿4.10港元，可下試3.63港元及"), (1020, "3.43港元。倘股價上穿4.10港元，則表示"), (1040, "下破為假突破，故投資人應平倉以控制風")]
body_last = [(468, "牛差，且位於0水平以上。"), (575, "以控制風險。"), (973, "低。MACD剛呈熊差。"), (1060, "險。")]
for y, s in body_full:
    txt(page, COL, y, s, fit(s), DARK, CJK)
for y, s in body_last:
    txt(page, COL, y, s, 14, DARK, CJK)
bold = [(601, "預期平均時限：2個月（倘股價於5個交易"), (621, "日內未能於買入區間內入市，則取消此推"),
        (1087, "預期平均時限：2個月（倘股價於3個交易"), (1107, "日內未能於沽售區間內入市，則取消此推")]
for y, s in bold:
    txt(page, COL, y, s, fit(s), "#111111", CJK, "bold")
for y, s in [(641, "介）"), (1127, "介）")]:
    txt(page, COL, y, s, 14, "#111111", CJK, "bold")
txt(page, COL, 1174, "陳珮嵐   CMT", 12, "#111111", CJK, "bold")
txt(page, COL, 1188, "+852 2236 6716", 12, "#333333", SANS)
txt(page, COL, 1204, "Joyce.chan@uobkayhian.com.hk", 12, "#333333", SANS)

root = Column(children=[page, a1, b1, m1, a2, b2, m2], width=1020, height=1320,
              styles={"position": "absolute", "left": "0px", "top": "0px"})
open("out.html", "w").write(file_html(root, INLINE))
